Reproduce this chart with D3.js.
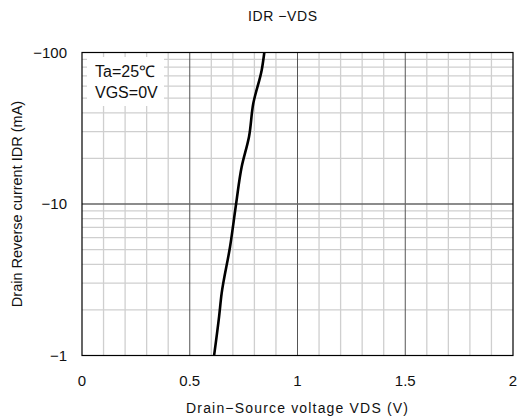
<!DOCTYPE html>
<html><head><meta charset="utf-8">
<script src="https://cdn.jsdelivr.net/npm/d3@7"></script>
<style>body{margin:0;background:#fff}text{font-family:"Liberation Sans",Arial,sans-serif}</style>
</head><body>
<svg id="c" width="517" height="419"></svg>
<script>
const vds = [0.613, 0.636, 0.648, 0.687, 0.715, 0.741, 0.775, 0.795, 0.834, 0.846];
const idr = [1, 1.8, 2.57, 5.22, 10, 17.6, 27.8, 46.2, 76.6, 100];
const xTicks = [0, 0.5, 1, 1.5, 2];
const xTickLabels = ["0", "0.5", "1", "1.5", "2"];
const yTicks = [1, 10, 100];
const yTickLabels = ["\u22121", "\u221210", "\u2212100"];
const title = "IDR \u2212VDS";
const xTitle = "Drain\u2212Source voltage VDS (V)";
const yTitle = "Drain Reverse current IDR (mA)";
const notes = ["Ta=25\u2103", "VGS=0V"];

const svg = d3.select("#c");
const L = 82, R = 513, T = 52.5, B = 355.5;
const x = d3.scaleLinear().domain([0, 2]).range([L, R]);
const y = d3.scaleLog().domain([1, 100]).range([B, T]);

// minor grid
const g = svg.append("g");
const minorX = d3.range(1, 20).map(i => i / 10).filter(v => Math.abs(v * 2 - Math.round(v * 2)) > 1e-6);
g.selectAll(".mx").data(minorX).join("line")
  .attr("x1", d => x(d)).attr("x2", d => x(d)).attr("y1", T).attr("y2", B)
  .attr("stroke", "#cfcfcf").attr("stroke-width", 1.3);
const minorY = [];
[1, 10].forEach(d => { for (let k = 2; k <= 9; k++) minorY.push(d * k); });
g.selectAll(".my").data(minorY).join("line")
  .attr("x1", L).attr("x2", R).attr("y1", d => y(d)).attr("y2", d => y(d))
  .attr("stroke", "#cfcfcf").attr("stroke-width", 1.3);
// major grid
g.selectAll(".Mx").data([0.5, 1, 1.5]).join("line")
  .attr("x1", d => x(d)).attr("x2", d => x(d)).attr("y1", T).attr("y2", B)
  .attr("stroke", "#555").attr("stroke-width", 1);
g.selectAll(".My").data([10]).join("line")
  .attr("x1", L).attr("x2", R).attr("y1", d => y(d)).attr("y2", d => y(d))
  .attr("stroke", "#666").attr("stroke-width", 1.3);

// legend box
svg.append("rect").attr("x", 87).attr("y", 57).attr("width", 77).attr("height", 49).attr("fill", "#fff");
svg.selectAll(".note").data(notes).join("text")
  .attr("x", 95).attr("y", (d, i) => 77 + i * 20.5).attr("font-size", 16).attr("fill", "#111").text(d => d);

// frame
svg.append("rect").attr("x", L).attr("y", T).attr("width", R - L).attr("height", B - T)
  .attr("fill", "none").attr("stroke", "#000").attr("stroke-width", 1.2);

// curve
const line = d3.line().x((d, i) => x(vds[i])).y(d => y(d)).curve(d3.curveMonotoneY);
svg.append("path").datum(idr).attr("d", line).attr("fill", "none").attr("stroke", "#000").attr("stroke-width", 2.6);

// ticks
svg.selectAll(".xt").data(xTicks).join("text")
  .attr("x", d => x(d)).attr("y", 386).attr("text-anchor", "middle").attr("font-size", 15).attr("fill", "#111")
  .text((d, i) => xTickLabels[i]);
svg.selectAll(".yt").data(yTicks).join("text")
  .attr("x", 67).attr("y", d => y(d) + 5).attr("text-anchor", "end").attr("font-size", 15).attr("fill", "#111")
  .text((d, i) => yTickLabels[i]);

// titles
svg.append("text").attr("x", 248).attr("y", 21).attr("font-size", 14).attr("fill", "#111")
  .attr("textLength", 69).attr("lengthAdjust", "spacing").text(title);
svg.append("text").attr("x", 186).attr("y", 413).attr("font-size", 14).attr("fill", "#111")
  .attr("textLength", 222).attr("lengthAdjust", "spacing").text(xTitle);
svg.append("text").attr("transform", `translate(22,${(T + B) / 2}) rotate(-90)`).attr("text-anchor", "middle").attr("font-size", 14.5).attr("fill", "#111").text(yTitle);
</script>
</body></html>
